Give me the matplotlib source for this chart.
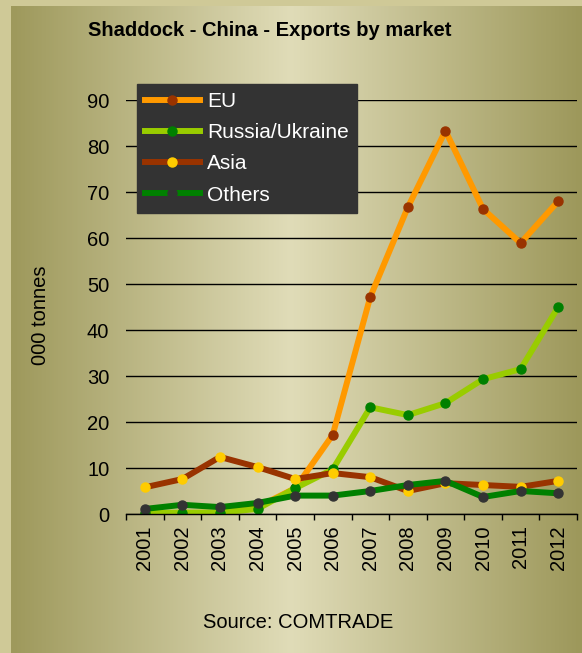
import matplotlib
matplotlib.use("Agg")
import matplotlib.pyplot as plt
import numpy as np
from matplotlib.colors import LinearSegmentedColormap
from matplotlib.lines import Line2D

plt.rcParams["font.family"] = ["Liberation Sans", "DejaVu Sans"]

years = ["2001", "2002", "2003", "2004", "2005", "2006",
         "2007", "2008", "2009", "2010", "2011", "2012"]
eu = [0.1, 0.2, 0.3, 1.5, 5.6, 17.2, 47.2, 66.7, 83.3, 66.3, 58.9, 68.0]
russia_ukraine = [0.2, 0.3, 0.3, 1.1, 5.6, 9.7, 23.2, 21.5, 24.1, 29.3, 31.5, 45.0]
asia = [5.8, 7.6, 12.4, 10.2, 7.6, 8.9, 8.0, 5.0, 6.7, 6.3, 5.9, 7.2]
others = [1.1, 2.0, 1.5, 2.4, 4.0, 4.0, 5.0, 6.3, 7.2, 3.7, 5.0, 4.5]

series = [
    ("EU", eu, "#ff9900", "#993300"),
    ("Russia/Ukraine", russia_ukraine, "#99cc00", "#008000"),
    ("Asia", asia, "#993300", "#ffcc00"),
    ("Others", others, "#008000", "#333333"),
]

W, H = 582, 653
fig = plt.figure(figsize=(W / 100, H / 100), dpi=100)
fig.patch.set_facecolor("#cfc997")

# gradient background panel
bg = fig.add_axes([11 / W, 0, (W - 11) / W, (H - 6) / H])
cmap = LinearSegmentedColormap.from_list(
    "bg", [(0, "#9e995c"), (0.49, "#e0dcb8"), (1, "#9d985b")])
bg.imshow(np.linspace(0, 1, 400)[None, :], aspect="auto", cmap=cmap,
          extent=[0, 1, 0, 1])
bg.set_axis_off()

ax = fig.add_axes([126 / W, (H - 514) / H, 451 / W, 414 / H])
ax.set_facecolor("none")
x = np.arange(len(years)) + 0.5
for name, vals, lc, mc in series:
    ax.plot(x, vals, color=lc, lw=4.3, marker="o", ms=6.5,
            markerfacecolor=mc, markeredgecolor=mc, label=name,
            solid_capstyle="round", solid_joinstyle="round")

ax.set_xlim(0, 12)
ax.set_ylim(0, 90)
ax.set_yticks(np.arange(0, 91, 10))
ax.set_xticks(np.arange(0, 13), minor=False)
ax.set_xticklabels([])
ax.set_xticks(x, minor=True)
ax.set_xticklabels(years, minor=True, rotation=90, fontsize=14.5)
ax.tick_params(axis="x", which="minor", length=0, pad=8)
ax.tick_params(axis="x", which="major", direction="out", length=4, width=1)
ax.tick_params(axis="y", length=0, labelsize=14.5, pad=12)
ax.grid(axis="y", color="black", lw=1)
for s in ["top", "right", "left"]:
    ax.spines[s].set_visible(False)
ax.spines["bottom"].set_linewidth(1)
ax.set_axisbelow(True)

fig.text(40 / W, 1 - 315 / H, "000 tonnes", rotation=90, fontsize=14.5,
         ha="center", va="center")
fig.text(270 / W, 1 - 30 / H, "Shaddock - China - Exports by market",
         fontsize=14.5, fontweight="bold", ha="center", va="center")
fig.text(298 / W, 1 - 623 / H, "Source: COMTRADE", fontsize=14.5,
         ha="center", va="center")

handles = [Line2D([], [], color=lc, lw=4.3, marker="o", ms=6.5,
                  markerfacecolor=mc, markeredgecolor=mc)
           for _, _, lc, mc in series]
leg = fig.legend(handles, [s[0] for s in series], loc="upper left",
                 bbox_to_anchor=(137 / W, 1 - 84 / H), fontsize=15,
                 frameon=True, fancybox=False, facecolor="#333333",
                 edgecolor="#333333", framealpha=1, handlelength=2.6,
                 handletextpad=0.35, borderpad=0.4, labelspacing=0.58,
                 borderaxespad=0)
for t in leg.get_texts():
    t.set_color("white")

fig.savefig("out.png", dpi=100, facecolor=fig.get_facecolor())
